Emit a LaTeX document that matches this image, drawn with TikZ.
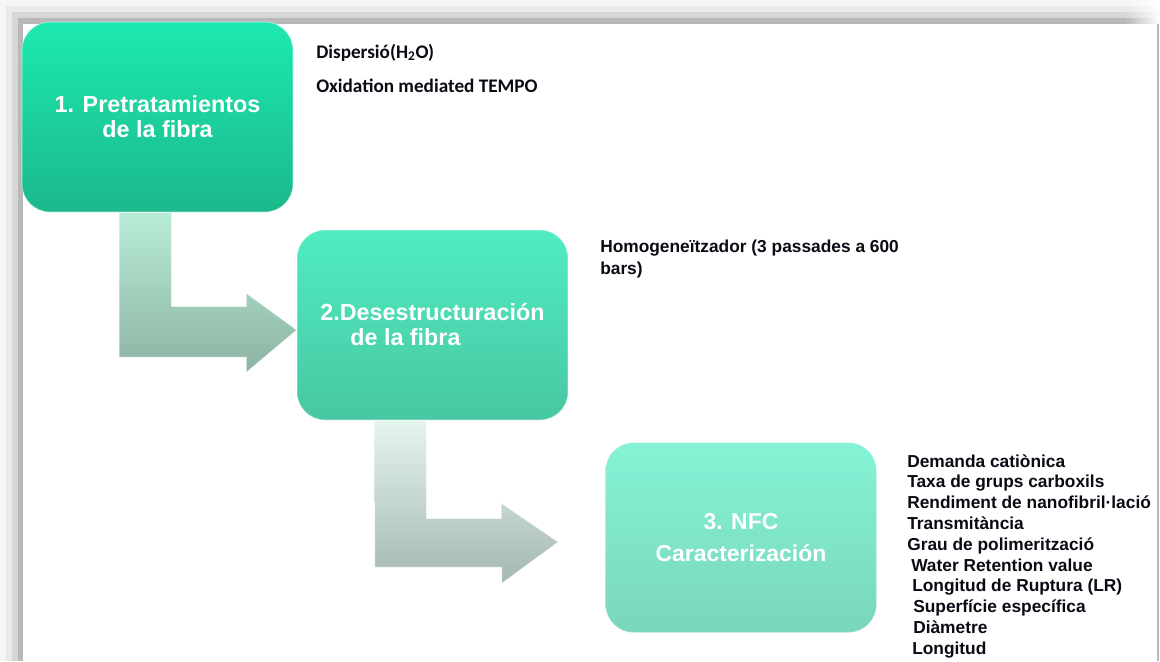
\documentclass[tikz,border=0pt]{standalone}
\usepackage{fontspec}
\setmainfont{Liberation Sans}
\newfontfamily\carl{Carlito}
\usetikzlibrary{calc,fadings}
\definecolor{bOneT}{HTML}{1DE9B0}
\definecolor{bOneB}{HTML}{1BB88B}
\definecolor{bTwoT}{HTML}{50ECC1}
\definecolor{bTwoB}{HTML}{48C7A2}
\definecolor{bThrT}{HTML}{85F3D5}
\definecolor{bThrB}{HTML}{79D6BC}
\definecolor{aOneT}{HTML}{B8ECD6}
\definecolor{aOneB}{HTML}{8DB3A3}
\definecolor{aTwoT}{HTML}{E3F5EC}
\definecolor{aTwoB}{HTML}{A5B8B0}
\definecolor{frA}{HTML}{F5F5F5}
\definecolor{frB}{HTML}{E9E9E9}
\definecolor{frC}{HTML}{D6D6D6}
\definecolor{frD}{HTML}{B8B8B8}
\definecolor{txt}{HTML}{0A0A14}
\tikzfading[name=fadeinright, left color=transparent!100, right color=transparent!0]
\begin{document}
\begin{tikzpicture}[x=0.75pt,y=-0.75pt,
  box/.style={rounded corners=21pt, minimum width=203.25pt, minimum height=142.5pt,
    inner sep=0pt, text=white, draw=white, draw opacity=.35, line width=0.8pt,
    font=\bfseries\fontsize{17.5}{18.75}\selectfont},
  arrowshape/.style={draw=white, draw opacity=.35, line width=0.6pt},
  side/.style={anchor=base west, inner sep=0pt, text=txt,
    font=\bfseries\fontsize{13}{16.5}\selectfont},
  sidec/.style={anchor=base west, inner sep=0pt, text=txt,
    font=\carl\bfseries\fontsize{14.4}{17}\selectfont},
  lst/.style={anchor=base west, inner sep=0pt, text=txt,
    font=\bfseries\fontsize{13}{15.6}\selectfont}]
\useasboundingbox (0,0) rectangle (1160,661);
\fill[white] (0,0) rectangle (1160,661);
% window frame (stepped grey shadow)
\fill[frA] (0,0) rectangle (1160,6);
\fill[frB] (6,6) rectangle (1160,12);
\fill[frC] (12,12) rectangle (1160,18);
\fill[frD] (18,18) rectangle (1160,24);
\fill[frA] (0,0) rectangle (6,661);
\fill[frB] (6,6) rectangle (12,661);
\fill[frC] (12,12) rectangle (18,661);
\fill[frD] (18,18) rectangle (23,661);
\fill[white, path fading=fadeinright] (1125,0) rectangle (1160,24);
\draw[frD, line width=1.2pt] (1158,24) -- (1158,661);

% boxes
\node[box, top color=bOneT, bottom color=bOneB, align=center] (b1) at (157.5,117)
  {1. Pretratamientos\\de la fibra};
\node[box, top color=bTwoT, bottom color=bTwoB, align=left] (b2) at (432.5,325)
  {2.Desestructuración\\\hspace*{22.5pt}de la fibra};
\node[box, top color=bThrT, bottom color=bThrB, align=center,
  font=\bfseries\fontsize{17.2}{24}\selectfont] (b3) at (741,537.5)
  {3. NFC\\Caracterización};

% bent arrows between boxes
\coordinate (a1s) at ($(b1.south west)+(98,0)$);
\coordinate (a1t) at ($(b2.west)+(0,5)$);
\path[arrowshape, top color=aOneT, bottom color=aOneB]
  (a1s) -- ++(52,0) -- ++(0,94) -- ++(75,0) -- ++(0,-13) -- (a1t)
  -- ++(-50,42) -- ++(0,-15) -- ++(-127,0) -- cycle;
\coordinate (a2s) at ($(b2.south west)+(78,0)$);
\coordinate (a2t) at ($(b3.west)+(-47,4.5)$);
\path[arrowshape, top color=aTwoT, bottom color=aTwoB]
  (a2s) -- ++(52,0) -- ++(0,98) -- ++(75,0) -- ++(0,-15) -- (a2t)
  -- ++(-56,41) -- ++(0,-16) -- ++(-127,0) -- cycle;

% side texts
\node[sidec] (s1) at (316,58) {Dispersió(H\textsubscript{2}O)};
\node[sidec] (s2) at (316,92) {Oxidation mediated TEMPO};
\node[side] (h1) at (600,252) {Homogeneïtzador (3 passades a 600};
\node[side] (h2) at (600,274) {bars)};

\foreach \dx/\t [count=\i] in {907/Demanda catiònica, 907/Taxa de grups carboxils,
    907/Rendiment de nanofibril·lació, 907/Transmitància, 907/Grau de polimerització,
    911/Water Retention value, 912/Longitud de Ruptura (LR), 913/Superfície específica,
    913/Diàmetre, 912/Longitud}
  \node[lst] (l\i) at (\dx,{467+(\i-1)*20.8}) {\t};
\end{tikzpicture}
\end{document}
